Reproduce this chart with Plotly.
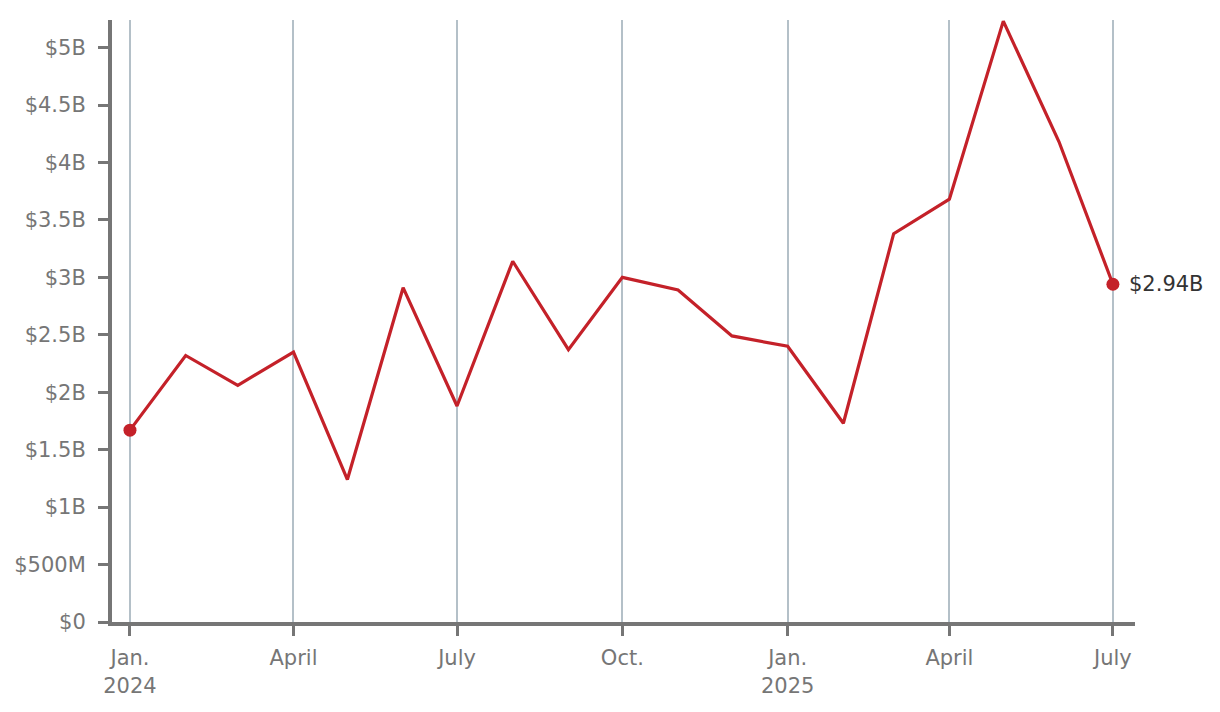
import plotly.graph_objects as go

months = ["2024-01-01", "2024-02-01", "2024-03-01", "2024-04-01", "2024-05-01", "2024-06-01",
          "2024-07-01", "2024-08-01", "2024-09-01", "2024-10-01", "2024-11-01", "2024-12-01",
          "2025-01-01", "2025-02-01", "2025-03-01", "2025-04-01", "2025-05-01", "2025-06-01",
          "2025-07-01"]
values_b = [1.67, 2.32, 2.06, 2.35, 1.24, 2.91, 1.88, 3.14, 2.37, 3.00, 2.89, 2.49,
            2.40, 1.73, 3.38, 3.68, 5.23, 4.18, 2.94]

y_tickvals = [0, 0.5, 1, 1.5, 2, 2.5, 3, 3.5, 4, 4.5, 5]
y_ticktext = ["$0", "$500M", "$1B", "$1.5B", "$2B", "$2.5B", "$3B", "$3.5B", "$4B", "$4.5B", "$5B"]
x_tickvals = ["2024-01-01", "2024-04-01", "2024-07-01", "2024-10-01", "2025-01-01", "2025-04-01", "2025-07-01"]
x_ticktext = ["Jan.<br>2024", "April", "July", "Oct.", "Jan.<br>2025", "April", "July"]
last_label = "$2.94B"

RED = "#c42129"
AXIS = "#767676"
FONT = "'DejaVu Sans', 'Noto Sans', sans-serif"

fig = go.Figure()
fig.add_trace(go.Scatter(x=months, y=values_b, mode="lines",
                         line=dict(color=RED, width=3.2), hoverinfo="skip"))
fig.add_trace(go.Scatter(x=[months[0], months[-1]], y=[values_b[0], values_b[-1]],
                         mode="markers", marker=dict(color=RED, size=13), hoverinfo="skip"))
fig.add_annotation(x=months[-1], y=values_b[-1], text=last_label, showarrow=False,
                   xanchor="left", xshift=14, font=dict(size=21, color="#333333", family=FONT))

fig.update_layout(
    width=1220, height=712,
    margin=dict(l=104, r=93, t=12, b=98),
    paper_bgcolor="white", plot_bgcolor="white",
    showlegend=False,
    font=dict(family=FONT, size=21, color=AXIS),
    xaxis=dict(type="date", range=["2023-12-22 00:00", "2025-07-13 07:00"],
               tickvals=x_tickvals, ticktext=x_ticktext,
               showgrid=True, gridcolor="#b4c0c8", gridwidth=2,
               showline=True, linecolor=AXIS, linewidth=4,
               ticks="outside", ticklen=10, tickwidth=3, tickcolor=AXIS,
               ticklabelstandoff=4, automargin=False,
               zeroline=False, fixedrange=True),
    yaxis=dict(range=[0, 5.24], tickvals=y_tickvals, ticktext=y_ticktext,
               showgrid=False, showline=True, linecolor=AXIS, linewidth=4,
               ticks="outside", ticklen=10, tickwidth=3, tickcolor=AXIS,
               ticklabelstandoff=8, automargin=False,
               zeroline=False, fixedrange=True),
)

fig.write_html("out.html")
